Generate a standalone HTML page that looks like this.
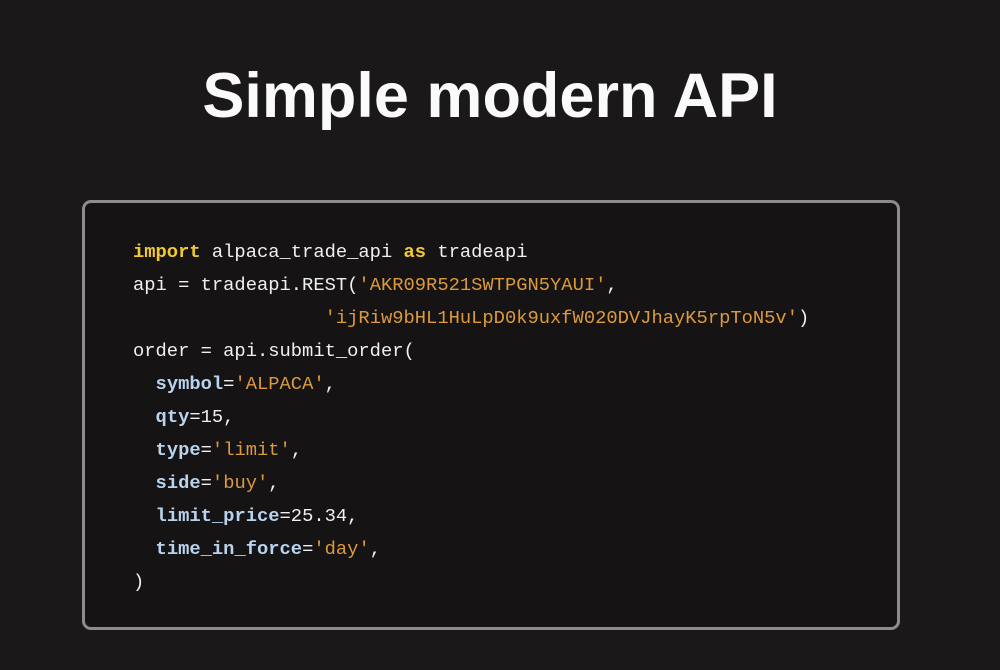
<!DOCTYPE html>
<html><head><meta charset="utf-8"><style>
html,body{margin:0;padding:0;}
body{width:1000px;height:670px;background:#1a1819;position:relative;overflow:hidden;}
h1{position:absolute;left:0;width:980px;top:56px;margin:0;text-align:center;font:bold 63px "Liberation Sans",sans-serif;color:#fafafa;line-height:80px;}
.box{position:absolute;left:82px;top:200px;width:812px;height:424px;border:3px solid #8c8c8c;border-radius:9px;background:#151314;}
pre{position:absolute;left:133px;top:236px;margin:0;font:18.8px/33px "Liberation Mono",monospace;color:#f0f0f0;}
.k{color:#f2c832;font-weight:bold}
.s{color:#dc9a3c}
.p{color:#b9d3ee;font-weight:bold}
</style></head><body>
<h1>Simple modern API</h1>
<div class="box"></div>
<pre><span class="k">import</span> alpaca_trade_api <span class="k">as</span> tradeapi
api = tradeapi.REST(<span class="s">'AKR09R521SWTPGN5YAUI'</span>,
                 <span class="s">'ijRiw9bHL1HuLpD0k9uxfW020DVJhayK5rpToN5v'</span>)
order = api.submit_order(
  <span class="p">symbol</span>=<span class="s">'ALPACA'</span>,
  <span class="p">qty</span>=15,
  <span class="p">type</span>=<span class="s">'limit'</span>,
  <span class="p">side</span>=<span class="s">'buy'</span>,
  <span class="p">limit_price</span>=25.34,
  <span class="p">time_in_force</span>=<span class="s">'day'</span>,
)</pre>
</body></html>
